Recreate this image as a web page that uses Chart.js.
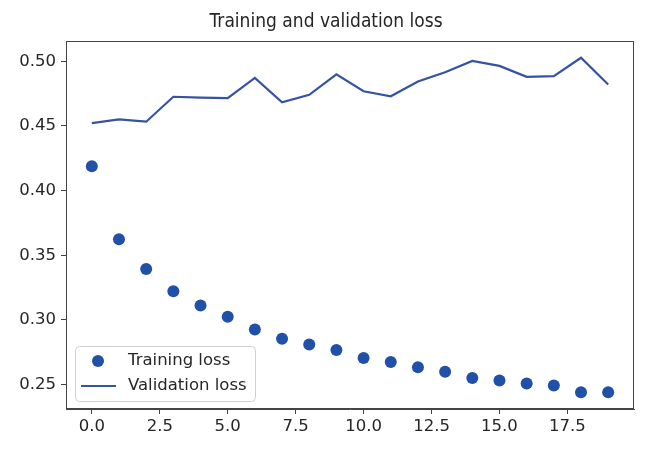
<!DOCTYPE html>
<html>
<head>
<meta charset="utf-8">
<script src="https://cdn.jsdelivr.net/npm/chart.js@4.4.3/dist/chart.umd.min.js"></script>
<style>
  html, body { margin: 0; padding: 0; background: #fff; }
  #wrap { width: 650px; height: 453px; position: relative; }
</style>
</head>
<body>
<div id="wrap"><canvas id="loss-chart" width="650" height="453"></canvas></div>
<script>
// epochs 0..19
const epochs = [0, 1, 2, 3, 4, 5, 6, 7, 8, 9, 10, 11, 12, 13, 14, 15, 16, 17, 18, 19];
const trainingLoss = [
  0.4188, 0.3623, 0.3394, 0.3222, 0.3111, 0.3024, 0.2926, 0.2854, 0.2810, 0.2767,
  0.2706, 0.2675, 0.2633, 0.2598, 0.2551, 0.2531, 0.2508, 0.2492, 0.2440, 0.2440,
];
const validationLoss = [
  0.4522, 0.4551, 0.4533, 0.4726, 0.4720, 0.4715, 0.4872, 0.4684, 0.4741, 0.4900,
  0.4769, 0.4730, 0.4844, 0.4916, 0.5003, 0.4965, 0.4880, 0.4885, 0.5028, 0.4821,
];
const xTickValues = [0, 2.5, 5, 7.5, 10, 12.5, 15, 17.5];
const yTickValues = [0.25, 0.30, 0.35, 0.40, 0.45, 0.50];
const titleText = "Training and validation loss";
const seriesLabels = ["Training loss", "Validation loss"];

const FONT = "'DejaVu Sans', sans-serif";
const TEXT_COLOR = "#262626";
const AXIS_COLOR = "#444444";
const DOT_COLOR = "#2150a8";
const LINE_COLOR = "#3653a3";

const toPoints = (values) => values.map((v, i) => ({ x: epochs[i], y: v }));

// matplotlib-like 5% margins around the data
const allValues = trainingLoss.concat(validationLoss);
const yLo = Math.min(...allValues);
const yHi = Math.max(...allValues);
const yPad = (yHi - yLo) * 0.05;
const xPad = (epochs[epochs.length - 1] - epochs[0]) * 0.05;

// frame on all four sides, title, legend inside lower left
const framePlugin = {
  id: "frame",
  afterDraw(chart) {
    const { ctx, chartArea: a } = chart;
    ctx.save();
    ctx.strokeStyle = AXIS_COLOR;
    ctx.lineWidth = 1;
    ctx.strokeRect(a.left + 0.5, a.top + 0.5, a.right - a.left - 1, a.bottom - a.top - 1);

    // legend
    const bx = a.left + 9;
    const bw = 180;
    const bh = 55;
    const by = a.bottom - 8 - bh;
    ctx.beginPath();
    ctx.roundRect(bx + 0.5, by + 0.5, bw, bh, 4);
    ctx.fillStyle = "rgba(255,255,255,0.8)";
    ctx.fill();
    ctx.strokeStyle = "#d0d0d0";
    ctx.stroke();

    const row1 = by + 15;
    const row2 = by + 40;
    ctx.fillStyle = DOT_COLOR;
    ctx.beginPath();
    ctx.arc(bx + 23, row1, 6, 0, Math.PI * 2);
    ctx.fill();
    ctx.strokeStyle = LINE_COLOR;
    ctx.lineWidth = 2;
    ctx.beginPath();
    ctx.moveTo(bx + 6, row2);
    ctx.lineTo(bx + 41, row2);
    ctx.stroke();

    ctx.fillStyle = TEXT_COLOR;
    ctx.font = `16.5px ${FONT}`;
    ctx.textBaseline = "middle";
    ctx.textAlign = "left";
    ctx.fillText(chart.data.datasets[0].label, bx + 53, row1);
    ctx.fillText(chart.data.datasets[1].label, bx + 53, row2);

    // title, slightly narrowed like the scanned original
    ctx.font = `19px ${FONT}`;
    ctx.textAlign = "center";
    ctx.translate(326, 22);
    ctx.scale(0.9, 1);
    ctx.fillText(titleText, 0, 0);
    ctx.restore();
  },
};

new Chart(document.getElementById("loss-chart"), {
  type: "scatter",
  data: {
    datasets: [
      {
        label: seriesLabels[0],
        data: toPoints(trainingLoss),
        showLine: false,
        pointRadius: 6,
        pointHoverRadius: 6,
        pointBackgroundColor: DOT_COLOR,
        pointBorderWidth: 0,
        backgroundColor: DOT_COLOR,
      },
      {
        label: seriesLabels[1],
        data: toPoints(validationLoss),
        showLine: true,
        borderColor: LINE_COLOR,
        borderWidth: 2.2,
        pointRadius: 0,
        tension: 0,
      },
    ],
  },
  options: {
    responsive: false,
    animation: false,
    events: [],
    layout: { padding: { top: 41, right: 16, left: 0, bottom: 0 } },
    plugins: {
      legend: { display: false },
      title: { display: false },
      tooltip: { enabled: false },
    },
    scales: {
      x: {
        type: "linear",
        min: epochs[0] - xPad,
        max: epochs[epochs.length - 1] + xPad,
        afterBuildTicks(scale) {
          scale.ticks = xTickValues.map((v) => ({ value: v }));
        },
        afterFit(scale) {
          scale.height = 44;
        },
        ticks: {
          color: TEXT_COLOR,
          font: { family: FONT, size: 16.5 },
          padding: 3,
          maxRotation: 0,
          callback: (v) => Number(v).toFixed(1),
        },
        grid: {
          drawOnChartArea: false,
          drawTicks: true,
          tickLength: 5,
          tickColor: AXIS_COLOR,
        },
        border: { display: true, color: AXIS_COLOR, width: 1 },
      },
      y: {
        type: "linear",
        min: yLo - yPad,
        max: yHi + yPad,
        afterBuildTicks(scale) {
          scale.ticks = yTickValues.map((v) => ({ value: v }));
        },
        afterFit(scale) {
          scale.width = 66;
        },
        ticks: {
          color: TEXT_COLOR,
          font: { family: FONT, size: 16.5 },
          padding: 5,
          callback: (v) => Number(v).toFixed(2),
        },
        grid: {
          drawOnChartArea: false,
          drawTicks: true,
          tickLength: 5,
          tickColor: AXIS_COLOR,
        },
        border: { display: true, color: AXIS_COLOR, width: 1 },
      },
    },
  },
  plugins: [framePlugin],
});
</script>
</body>
</html>
